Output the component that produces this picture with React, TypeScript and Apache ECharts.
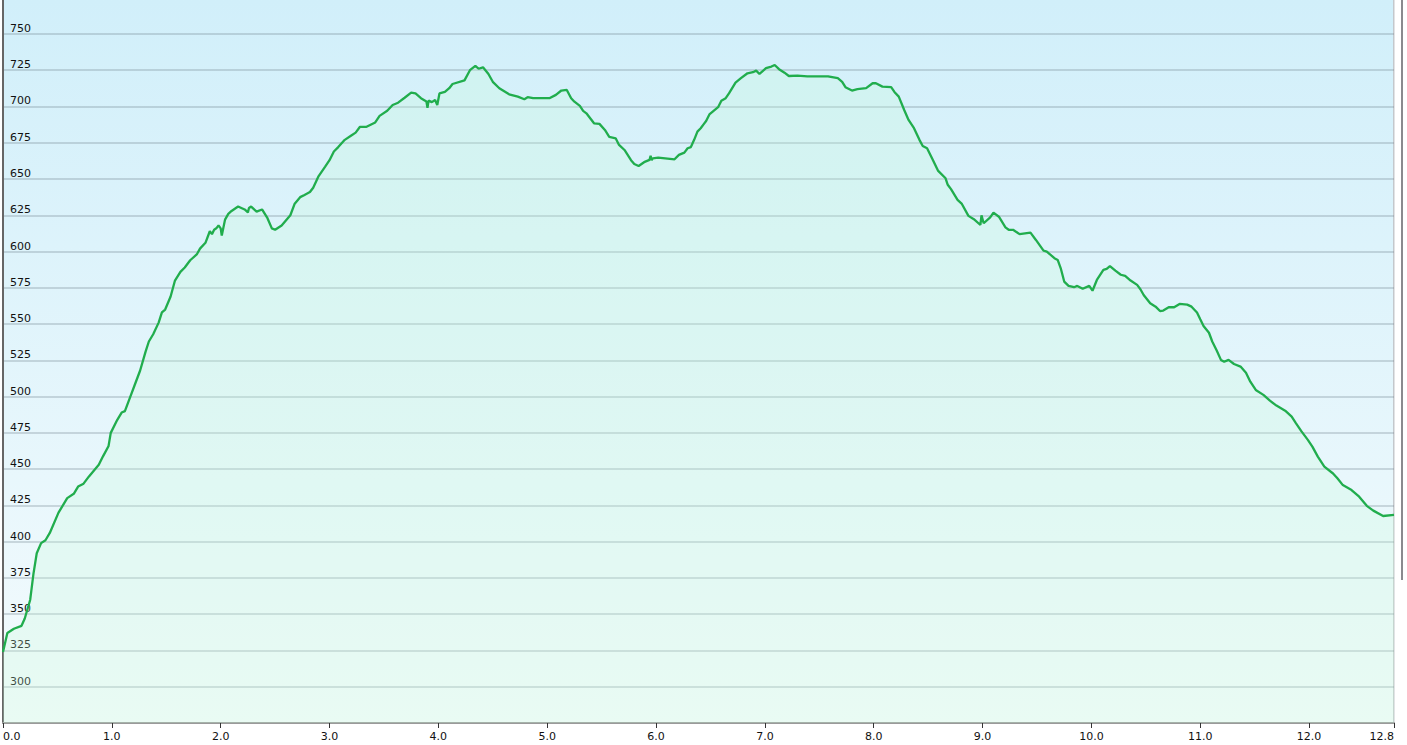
import React, { useEffect, useRef } from "react";
import * as echarts from "echarts";

const distanceKm = [
  0.0, 0.04, 0.1, 0.17, 0.2, 0.25, 0.28, 0.31, 0.35, 0.39, 0.43, 0.51, 0.59, 0.65, 0.69, 0.74, 0.79, 0.88, 0.92, 0.97,
  0.99, 1.05, 1.09, 1.12, 1.17, 1.21, 1.26, 1.31, 1.34, 1.38, 1.43, 1.46, 1.49, 1.54, 1.58, 1.63, 1.67, 1.72, 1.78, 1.81,
  1.86, 1.9, 1.92, 1.94, 1.96, 1.98, 2.0, 2.01, 2.04, 2.07, 2.1, 2.16, 2.22, 2.25, 2.26, 2.28, 2.33, 2.38, 2.43, 2.47,
  2.5, 2.56, 2.64, 2.68, 2.73, 2.77, 2.82, 2.85, 2.9, 2.96, 3.0, 3.04, 3.08, 3.14, 3.2, 3.24, 3.28, 3.34, 3.42, 3.46,
  3.53, 3.58, 3.63, 3.69, 3.75, 3.79, 3.84, 3.89, 3.9, 3.91, 3.94, 3.97, 3.99, 4.01, 4.06, 4.1, 4.13, 4.24, 4.29, 4.34,
  4.37, 4.41, 4.46, 4.5, 4.56, 4.65, 4.73, 4.79, 4.82, 4.87, 5.02, 5.08, 5.13, 5.18, 5.22, 5.25, 5.3, 5.33, 5.36, 5.43,
  5.48, 5.53, 5.57, 5.63, 5.66, 5.71, 5.77, 5.8, 5.84, 5.89, 5.94, 5.95, 5.96, 5.97, 6.02, 6.17, 6.21, 6.26, 6.29, 6.32,
  6.35, 6.38, 6.41, 6.44, 6.46, 6.49, 6.57, 6.6, 6.64, 6.67, 6.73, 6.78, 6.84, 6.89, 6.92, 6.95, 7.01, 7.06, 7.09, 7.13,
  7.18, 7.22, 7.3, 7.39, 7.58, 7.67, 7.71, 7.74, 7.8, 7.85, 7.93, 7.99, 8.02, 8.08, 8.16, 8.19, 8.23, 8.28, 8.32, 8.37,
  8.42, 8.45, 8.49, 8.54, 8.59, 8.66, 8.68, 8.71, 8.77, 8.81, 8.87, 8.92, 8.98, 8.99, 9.01, 9.07, 9.1, 9.15, 9.21, 9.24,
  9.28, 9.34, 9.44, 9.49, 9.56, 9.59, 9.66, 9.69, 9.72, 9.75, 9.79, 9.84, 9.87, 9.92, 9.98, 10.01, 10.05, 10.11, 10.14, 10.17,
  10.22, 10.27, 10.31, 10.36, 10.42, 10.45, 10.48, 10.54, 10.59, 10.63, 10.66, 10.71, 10.76, 10.81, 10.88, 10.92, 10.97, 11.0, 11.03, 11.08,
  11.11, 11.15, 11.19, 11.22, 11.26, 11.31, 11.37, 11.42, 11.46, 11.51, 11.58, 11.64, 11.7, 11.78, 11.84, 11.88, 11.93, 11.99, 12.03, 12.08,
  12.14, 12.22, 12.26, 12.31, 12.39, 12.46, 12.53, 12.59, 12.68, 12.78,
];

const elevationM = [
  324, 337, 340, 342, 347, 360, 378, 392, 399, 401, 406, 420, 430, 433, 438, 440, 445, 453, 459, 466,
  475, 484, 489, 490, 500, 508, 518, 531, 538, 543, 551, 558, 560, 569, 580, 586, 589, 594, 598, 602,
  606, 614, 612, 615, 616, 618, 616, 611, 622, 626, 628, 631, 629, 627, 630, 631, 627.5, 629, 623, 616,
  615, 618, 625, 633, 637.5, 639, 641, 644, 652, 658.5, 663, 669, 672, 677, 680, 682, 686, 686, 689, 693.5,
  697, 701, 702.6, 706, 709.5, 709, 705.7, 703.5, 699, 704, 703, 704.5, 701, 709, 710, 712.6, 715.5, 718, 725, 728,
  726, 727, 722.4, 717, 712.6, 708.4, 706.8, 705, 706.4, 705.7, 705.7, 708, 711, 711.4, 705.7, 703.3, 700.4, 697, 695.3, 688.4,
  688, 683.8, 679, 678, 673.5, 670, 663, 660.4, 659, 661.6, 663.2, 666, 663, 664.3, 664.8, 663.6, 666.6, 668.2, 671.2, 672,
  677, 682.7, 685, 688, 690, 694.5, 699.5, 704, 705.7, 709, 716.4, 719.5, 722.9, 723.6, 724.7, 722.4, 726.4, 727.5, 728.6, 725.7,
  723.3, 721, 721.2, 720.8, 720.8, 719.5, 717, 713.3, 711, 712, 712.6, 716, 716, 713.7, 713.3, 710, 706.8, 697.6, 690.7, 685,
  677, 672.8, 671.2, 663.6, 655.8, 650.5, 646, 643, 635.6, 632.8, 624.6, 622.3, 618.3, 625, 619.5, 623.6, 626.8, 624, 616.7, 615,
  615, 612, 613, 608, 600.6, 600, 595.4, 594.2, 588, 579.3, 576.3, 575.4, 576.3, 574.3, 576.3, 573, 580.4, 587.3, 588, 590,
  586.8, 584, 583.2, 580, 577, 574, 570, 564.3, 562, 559, 559.3, 561.6, 561.6, 563.9, 563.4, 562, 558, 553.3, 548.7, 544,
  538, 532, 525.3, 524, 525.3, 522.5, 520.7, 516.5, 510.3, 504.6, 501.2, 497.2, 493.8, 490.3, 486.2, 481.6, 476, 470, 465.5, 458.6,
  451.7, 447, 443.7, 439, 435.6, 431, 424.7, 421.4, 417.7, 418.4,
];

const xMin = 0;
const xMax = 12.78;
const yMin = 275;
const yMax = 773.4;
const yLabelMin = 300;
const yLabelMax = 750;

export default function App() {
  const ref = useRef<HTMLDivElement>(null);

  useEffect(() => {
    document.body.style.margin = "0";
    if (!ref.current) return;
    const chart = echarts.init(ref.current, null, { renderer: "svg" });
    const data = distanceKm.map((d, i) => [d, elevationM[i]]);
    chart.setOption({
      animation: false,
      backgroundColor: "#ffffff",
      grid: {
        left: 1,
        right: 13,
        top: 0,
        bottom: 22,
        show: true,
        borderWidth: 0,
        backgroundColor: new echarts.graphic.LinearGradient(0, 0, 0, 1, [
          { offset: 0, color: "#d1effa" },
          { offset: 1, color: "#f4fbfd" },
        ]),
      },
      xAxis: {
        type: "value",
        min: xMin,
        max: xMax,
        interval: 1,
        axisLine: { show: true, lineStyle: { color: "#9a9a9a", width: 2 } },
        axisTick: { show: true, length: 5, lineStyle: { color: "#333", width: 1 } },
        splitLine: { show: false },
        axisLabel: {
          formatter: (v: number) => v.toFixed(1),
          alignMinLabel: "left",
          alignMaxLabel: "right",
          margin: 8,
          fontFamily: "DejaVu Sans",
          fontSize: 11,
          color: "#111",
        },
      },
      yAxis: {
        type: "value",
        min: yMin,
        max: yMax,
        interval: 25,
        axisLine: { show: true, lineStyle: { color: "#666", width: 2 } },
        axisTick: { show: false },
        splitLine: {
          show: true,
          showMaxLine: false,
          lineStyle: { color: "rgba(110,130,140,0.38)", width: 1.5 },
        },
        axisLabel: {
          inside: true,
          margin: 7,
          align: "left",
          verticalAlign: "bottom",
          fontFamily: "DejaVu Sans",
          fontSize: 11,
          color: "#111",
          formatter: (v: number) => (v >= yLabelMin && v <= yLabelMax ? String(v) : ""),
        },
      },
      series: [
        {
          type: "line",
          data,
          showSymbol: false,
          symbol: "none",
          lineStyle: { color: "#21ad4d", width: 2.3 },
          areaStyle: { color: "rgba(200,252,215,0.36)" },
          z: 2,
        },
      ],
      graphic: [
        { type: "rect", shape: { x: 1393, y: 0, width: 1.5, height: 723 }, style: { fill: "#c4c8cc" }, silent: true },
        { type: "rect", shape: { x: 1401, y: 0, width: 2, height: 580 }, style: { fill: "#8a8a8e" }, silent: true },
      ],
    });
    return () => chart.dispose();
  }, []);

  return <div ref={ref} style={{ width: 1407, height: 745 }} />;
}
